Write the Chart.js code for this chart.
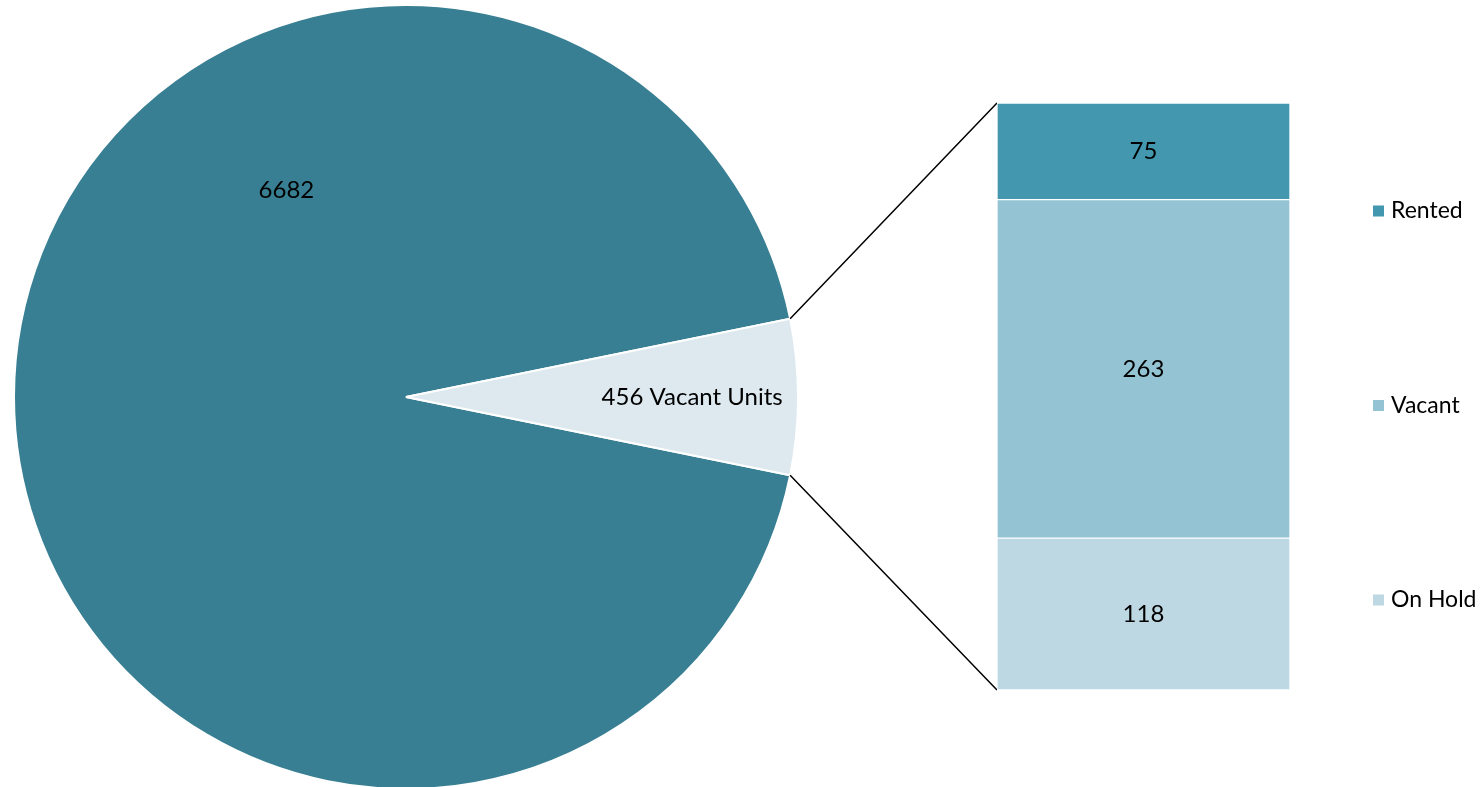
<!DOCTYPE html>
<html>
<head>
<meta charset="utf-8">
<script src="https://cdn.jsdelivr.net/npm/chart.js@4"></script>
<style>
    html, body { margin: 0; padding: 0; background: #fff; overflow: hidden; }
    #wrap { position: relative; width: 1481px; height: 787px; }
    #pieCanvas { position: absolute; left: 0; top: 0; }
    #barCanvas { position: absolute; left: 997px; top: 103px; }
</style>
</head>
<body>
<div id="wrap">
    <canvas id="pieCanvas" width="1481" height="787"></canvas>
    <canvas id="barCanvas" width="293" height="587"></canvas>
</div>
<script>
// --- data ---
const pieLabels = ['Occupied Units', 'Vacant Units'];
const pieValues = [6682, 456];
const pieColors = ['#387f93', '#dde9ef'];

const barLabels = ['Rented', 'Vacant', 'On Hold'];
const barValues = [75, 263, 118];
const barColors = ['#4398af', '#94c3d4', '#bdd8e3'];

const FONT = 'Lato, "Open Sans", sans-serif';
const BAR_LEFT = 997, BAR_TOP = 103;

// --- bar (second plot) ---
const barTotal = barValues.reduce((a, b) => a + b, 0);
// stacked bars draw first dataset at the bottom, so reverse
const barDatasets = barLabels.map((lab, i) => ({
    label: lab,
    data: [barValues[i]],
    backgroundColor: barColors[i],
    borderColor: '#ffffff',
    borderWidth: 1,
    borderSkipped: false
})).reverse();

const barValueLabels = {
    id: 'barValueLabels',
    afterDatasetsDraw(chart) {
        const c = chart.ctx;
        c.save();
        c.font = '24px ' + FONT;
        c.fillStyle = '#000';
        c.textAlign = 'center';
        c.textBaseline = 'middle';
        chart.data.datasets.forEach((ds, di) => {
            const el = chart.getDatasetMeta(di).data[0];
            c.fillText(String(ds.data[0]), el.x, (el.y + el.base) / 2);
        });
        c.restore();
    }
};

const barChart = new Chart(document.getElementById('barCanvas'), {
    type: 'bar',
    data: { labels: ['Vacant Units'], datasets: barDatasets },
    options: {
        responsive: false,
        animation: false,
        layout: { padding: 0 },
        datasets: { bar: { barPercentage: 1, categoryPercentage: 1 } },
        scales: {
            x: { display: false, stacked: true },
            y: { display: false, stacked: true, min: 0, max: barTotal }
        },
        plugins: { legend: { display: false }, tooltip: { enabled: false } }
    },
    plugins: [barValueLabels]
});

// --- pie ---
const pieTotal = pieValues.reduce((a, b) => a + b, 0);
// centre the small slice on 3 o'clock
const rotation = 90 + 180 * pieValues[1] / pieTotal;

const pieExtras = {
    id: 'pieExtras',
    afterDraw(chart) {
        const c = chart.ctx;
        const arcs = chart.getDatasetMeta(0).data;
        const big = arcs[0], small = arcs[1];
        c.save();
        c.font = '24px ' + FONT;
        c.fillStyle = '#000';
        c.textBaseline = 'middle';
        c.textAlign = 'center';

        // value labels
        const bigAng = -120 * Math.PI / 180;
        c.fillText(String(pieValues[0]), big.x + big.outerRadius * 0.61 * Math.cos(bigAng),
            big.y + big.outerRadius * 0.61 * Math.sin(bigAng));
        const mid = (small.startAngle + small.endAngle) / 2;
        c.fillText(pieValues[1] + ' ' + pieLabels[1], small.x + small.outerRadius * 0.73 * Math.cos(mid),
            small.y + small.outerRadius * 0.73 * Math.sin(mid));

        // connector lines to the stacked bar
        const top = barChart.getDatasetMeta(barDatasets.length - 1).data[0];
        const bottom = barChart.getDatasetMeta(0).data[0];
        const x1 = small.x + small.outerRadius * Math.cos(small.startAngle);
        const y1 = small.y + small.outerRadius * Math.sin(small.startAngle);
        const x2 = small.x + small.outerRadius * Math.cos(small.endAngle);
        const y2 = small.y + small.outerRadius * Math.sin(small.endAngle);
        c.strokeStyle = '#000';
        c.lineWidth = 1.5;
        c.beginPath();
        c.moveTo(x1, y1);
        c.lineTo(BAR_LEFT + top.x - top.width / 2, BAR_TOP + top.y);
        c.moveTo(x2, y2);
        c.lineTo(BAR_LEFT + bottom.x - bottom.width / 2, BAR_TOP + bottom.base);
        c.stroke();

        // legend
        c.font = '23px ' + FONT;
        c.textAlign = 'left';
        barLabels.forEach((lab, i) => {
            const ly = 211 + i * 194.5;
            c.fillStyle = barColors[i];
            c.fillRect(1373, ly - 5.5, 11, 11);
            c.fillStyle = '#000';
            c.fillText(lab, 1391, ly);
        });
        c.restore();
    }
};

const pieChart = new Chart(document.getElementById('pieCanvas'), {
    type: 'pie',
    data: {
        labels: pieLabels,
        datasets: [{
            data: pieValues,
            backgroundColor: pieColors,
            borderColor: '#ffffff',
            borderWidth: 2,
            radius: 392,
            clip: false
        }]
    },
    options: {
        responsive: false,
        animation: false,
        rotation: rotation,
        layout: { padding: { left: 14, right: 683, top: 10, bottom: 3 } },
        plugins: { legend: { display: false }, tooltip: { enabled: false } }
    },
    plugins: [pieExtras]
});
</script>
</body>
</html>
